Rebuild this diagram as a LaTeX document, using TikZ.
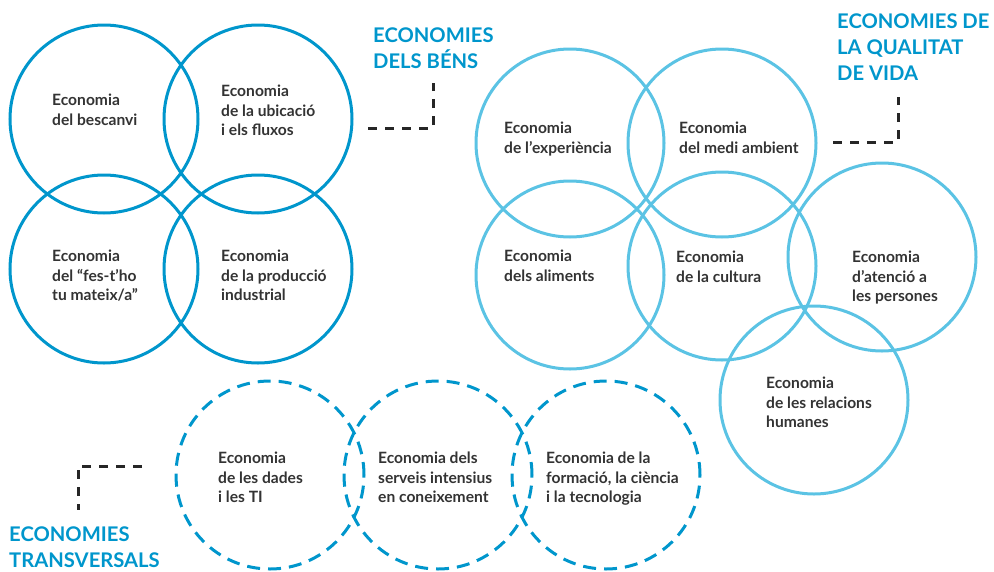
\documentclass[tikz,border=0pt]{standalone}
\usepackage{fontspec}
\setmainfont{Lato}
\definecolor{bensblue}{RGB}{0,150,204}
\definecolor{vidablue}{RGB}{91,195,228}
\definecolor{textgrey}{RGB}{51,51,51}
\tikzset{
  ring/.style={circle, line width=3pt, minimum size=188pt, inner sep=0pt},
  bens/.style={ring, draw=bensblue},
  vida/.style={ring, draw=vidablue},
  transv/.style={ring, draw=bensblue, dash pattern=on 13pt off 8pt},
  txt/.style={anchor=north west, align=left, inner sep=0pt, text=textgrey,
    font=\bfseries\fontsize{15.6}{19.5}\selectfont},
  title/.style={anchor=north west, align=left, inner sep=0pt, text=bensblue,
    font=\bfseries\fontsize{20.2}{26}\selectfont},
  guide/.style={line width=3pt, draw=black!85, dash pattern=on 9pt off 8pt}
}
\begin{document}
\begin{tikzpicture}[x=1pt,y=-1pt]
\useasboundingbox (0,0) rectangle (994,571);

% economies dels bens
\node[bens] (bescanvi) at (104,119) {};
\node[bens] (ubicacio) at (258,119) {};
\node[bens] (festho) at (104,269) {};
\node[bens] (produccio) at (258,269) {};

\node[txt] (t-bescanvi) at (52,94) {Economia\\del bescanvi};
\node[txt] (t-ubicacio) at (221,85) {Economia\\de la ubicació\\i els fluxos};
\node[txt] (t-festho) at (52,250) {Economia\\del “fes-t’ho\\tu mateix/a”};
\node[txt] (t-produccio) at (221,250) {Economia\\de la producció\\industrial};

% economies de la qualitat de vida
\node[vida] (experiencia) at (570,143) {};
\node[vida] (medi) at (722,143) {};
\node[vida] (aliments) at (570,275) {};
\node[vida] (cultura) at (722,266) {};
\node[vida] (atencio) at (882,257) {};
\node[vida] (relacions) at (814,400) {};

\node[txt] (t-experiencia) at (504,122) {Economia\\de l’experiència};
\node[txt] (t-medi) at (679,122) {Economia\\del medi ambient};
\node[txt] (t-aliments) at (504,250) {Economia\\dels aliments};
\node[txt] (t-cultura) at (676,251) {Economia\\de la cultura};
\node[txt] (t-atencio) at (852,251) {Economia\\d’atenció a\\les persones};
\node[txt] (t-relacions) at (766,377) {Economia\\de les relacions\\humanes};

% economies transversals
\node[transv] (dades) at (270,475) {};
\node[transv] (serveis) at (438,475) {};
\node[transv] (formacio) at (606,475) {};

\node[txt] (t-dades) at (218,452) {Economia\\de les dades\\i les TI};
\node[txt] (t-serveis) at (378,452) {Economia dels\\serveis intensius\\en coneixement};
\node[txt] (t-formacio) at (546,452) {Economia de la\\formació, la ciència\\i la tecnologia};

% titols
\node[title] (bens) at (373,28) {ECONOMIES\\DELS BÉNS};
\node[title] (vida) at (837,14) {ECONOMIES DE\\LA QUALITAT\\DE VIDA};
\node[title, text depth=0pt] (transversals) at (9,527) {ECONOMIES\\TRANSVERSALS};

% guies
\coordinate (g1a) at (368,128);
\coordinate (g1b) at (433,83);
\coordinate (g2a) at (833,142);
\coordinate (g2b) at (898,97);
\coordinate (g3a) at (142,466);
\coordinate (g3b) at (78,510);
\draw[guide] (g1a) -| (g1b);
\draw[guide] (g2a) -| (g2b);
\draw[guide] (g3a) -| (g3b);

\end{tikzpicture}
\end{document}
